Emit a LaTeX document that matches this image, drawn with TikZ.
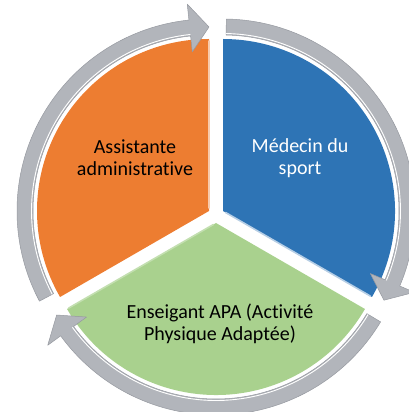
\documentclass[tikz,border=0pt]{standalone}
\usepackage{fontspec}
\setmainfont{Carlito}[Ligatures=NoCommon]
\definecolor{orng}{HTML}{ED7D31}
\definecolor{blu}{HTML}{2E74B5}
\definecolor{grn}{HTML}{A9D18E}
\definecolor{ringgray}{RGB}{178,181,187}
\definecolor{ringedge}{RGB}{150,153,160}
\tikzset{
  sector/.style={draw=none},
  ringarrow/.style={fill=ringgray, draw=ringedge, line width=0.5pt, line join=round},
  lbl/.style={font=\fontsize{20}{22}\selectfont, align=center, inner sep=0pt},
  bevel/.style={line width=1.6pt, line cap=round}
}
\newcommand\myringarrow[4]{%
  \path[ringarrow, shift={(#1)}] (#2:192) arc[start angle=#2, end angle=#3, radius=192]
    -- (#3:208) -- (#4:184) -- (#3:160) -- (#3:176)
    arc[start angle=#3, end angle=#2, radius=176] -- cycle;
  \draw[white, line width=0.9pt, shift={(#1)}] (#2:177.5) arc[start angle=#2, end angle=#3, radius=177.5];
}
\begin{document}
\begin{tikzpicture}[x=1pt,y=1pt]
\useasboundingbox (0,0) rectangle (409,412);
\coordinate (O) at (209,201);
\coordinate (B) at (223,201);
\coordinate (G) at (216,189);
% sectors
\fill[orng] (O) -- ++(90:172) arc[start angle=90, end angle=210, radius=172] -- cycle;
\fill[blu] (B) -- ++(-30:172) arc[start angle=-30, end angle=90, radius=172] -- cycle;
\fill[grn] (G) -- ++(210:172) arc[start angle=210, end angle=330, radius=172] -- cycle;
% bevels
\draw[bevel, orng!40!white, shift={(O)}] (90:3) -- (90:170);
\draw[bevel, blu!35!white, shift={(B)}] (-30:3) -- (-30:170);
\draw[bevel, grn!70!white, shift={(G)}] (210:3) -- (210:170);
% ring arrows
\myringarrow{O}{208}{96}{90}
\myringarrow{G}{-31}{-144}{-150}
\myringarrow{B}{89}{-23}{-29}
% labels
\node[lbl] (a) at (135,254) {Assistante\\administrative};
\node[lbl, white] (m) at (300,254) {Médecin du\\sport};
\node[lbl] (e) at (220,88) {Enseigant APA (Activité\\Physique Adaptée)};
\end{tikzpicture}
\end{document}
